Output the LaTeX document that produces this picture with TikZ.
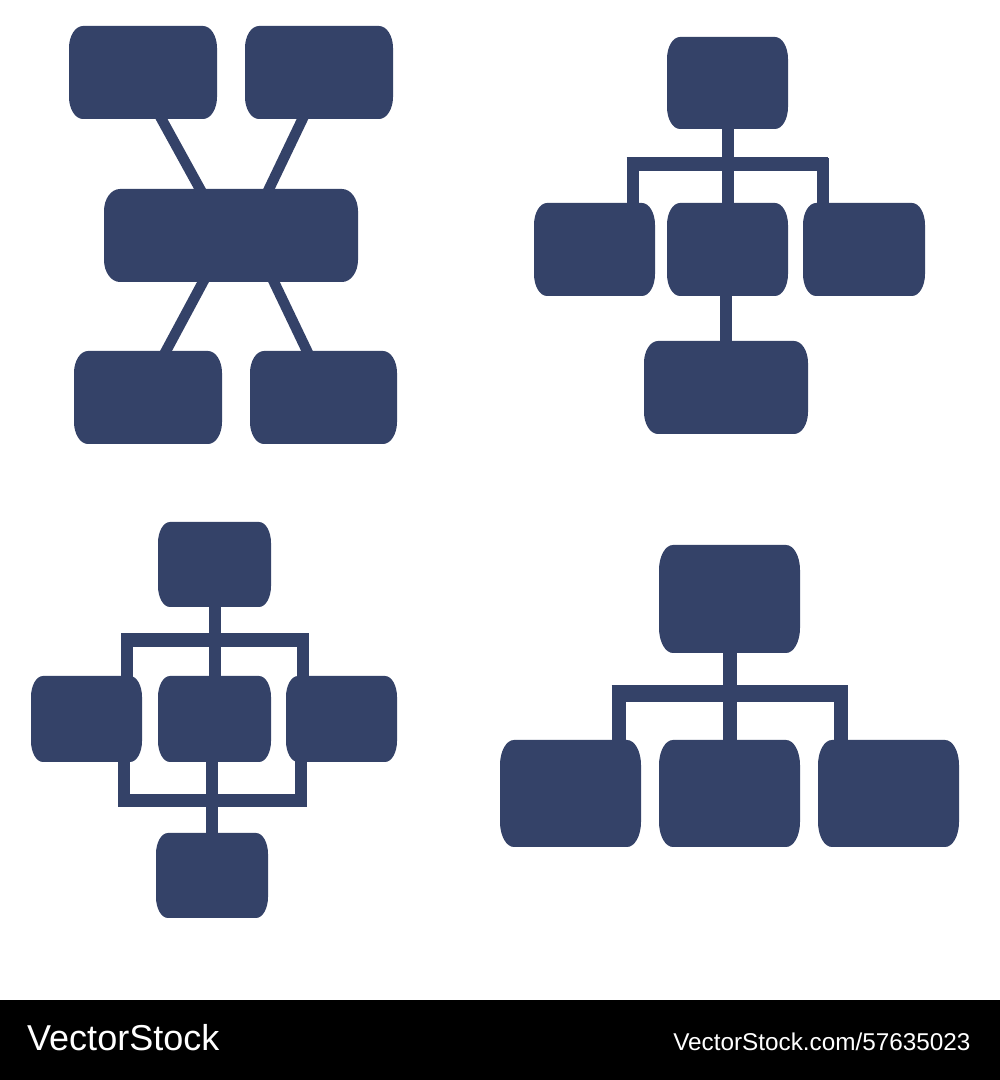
\documentclass[tikz,border=0pt]{standalone}
\usepackage{fontspec}
\setmainfont{Liberation Sans}
\definecolor{navy}{HTML}{344268}
\newcommand\mkbox[5]{% name, x1, ytop, x2, ybottom (pixel coords, y down)
  \node[boxanchor, minimum width={(#4-#2)*1pt}, minimum height={(#5-#3)*1pt}]
    (#1) at ({(#2+#4)/2}, {1080-(#3+#5)/2}) {};}
\newcommand\fillbox[3]{% name, rx, ry
  \fill[navy] ([xshift=#2pt]#1.north west) -- ([xshift=-#2pt]#1.north east)
    arc[start angle=90, end angle=0, x radius=#2pt, y radius=#3pt]
    -- ([yshift=#3pt]#1.south east)
    arc[start angle=0, end angle=-90, x radius=#2pt, y radius=#3pt]
    -- ([xshift=#2pt]#1.south west)
    arc[start angle=-90, end angle=-180, x radius=#2pt, y radius=#3pt]
    -- ([yshift=-#3pt]#1.north west)
    arc[start angle=180, end angle=90, x radius=#2pt, y radius=#3pt] -- cycle;}
\tikzset{
  boxanchor/.style={inner sep=0pt, outer sep=0pt, draw=none, rectangle},
  link/.style={draw=navy, line width=12pt, line cap=butt},
  slant/.style={draw=navy, line width=10.5pt, shorten <=-8pt, shorten >=-8pt},
  into/.style={shorten <=-6pt, shorten >=-6pt},
}
\begin{document}
\begin{tikzpicture}[x=1pt,y=1pt]
\useasboundingbox (0,0) rectangle (1000,1080);
\fill[white] (0,0) rectangle (1000,1080);

% ---------- Diagram 1 (top left) ----------
\mkbox{A1}{69}{26}{217}{119}
\mkbox{A2}{245}{26}{393}{119}
\mkbox{M}{104}{189}{358}{282}
\mkbox{B1}{74}{351}{222}{444}
\mkbox{B2}{250}{351}{397}{444}
\draw[slant] ([xshift=18.5pt]A1.south) -- ([xshift=-31pt]M.north);
\draw[slant] ([xshift=-16.5pt]A2.south) -- ([xshift=38pt]M.north);
\draw[slant] ([xshift=-28pt]M.south) -- ([xshift=18pt]B1.north);
\draw[slant] ([xshift=43pt]M.south) -- ([xshift=-16.5pt]B2.north);

% ---------- Diagram 2 (top right) ----------
\mkbox{T}{667}{37}{788}{129}
\mkbox{L}{534}{203}{655}{296}
\mkbox{C}{667}{203}{788}{296}
\mkbox{R}{803}{203}{925}{296}
\mkbox{Bt}{644}{341}{808}{434}
\coordinate (bar2) at (727.5,{1080-164});
\draw[link,into] (T.south) -- (C.north);
\draw[link,into] ([xshift=38pt]L.north) -- ([xshift=38pt]L.north |- bar2);
\draw[link,into] ([xshift=-41.5pt]R.north) -- ([xshift=-41.5pt]R.north |- bar2);
\draw[link, line width=14pt] ([xshift=32.2pt]L.north |- bar2) -- ([xshift=-35.7pt]R.north |- bar2);
\draw[link,into] ([xshift=-1.5pt]C.south) -- ([xshift=-1.5pt]C.south |- Bt.north);

% ---------- Diagram 3 (bottom left) ----------
\mkbox{T3}{158}{522}{271}{607}
\mkbox{L3}{31}{676}{142}{762}
\mkbox{C3}{158}{676}{271}{762}
\mkbox{R3}{286}{676}{397}{762}
\mkbox{B3}{156}{833}{268}{918}
\coordinate (bar3a) at (214.5,{1080-639.7});
\coordinate (bar3b) at (212,{1080-801});
\draw[link,into] ([xshift=0.5pt]T3.south) -- ([xshift=0.5pt]C3.north);
\draw[link,into] ([xshift=40pt]L3.north) -- ([xshift=40pt]L3.north |- bar3a);
\draw[link,into] ([xshift=-38.5pt]R3.north) -- ([xshift=-38.5pt]R3.north |- bar3a);
\draw[link, line width=14pt] ([xshift=34.5pt]L3.north |- bar3a) -- ([xshift=-32.8pt]R3.north |- bar3a);
\draw[link,into] ([xshift=37.5pt]L3.south) -- ([xshift=37.5pt]L3.south |- bar3b);
\draw[link,into] ([xshift=-41pt]R3.south) -- ([xshift=-41pt]R3.south |- bar3b);
\draw[link,into] ([xshift=-2.5pt]C3.south) -- (B3.north);
\draw[link, line width=13pt] ([xshift=31.8pt]L3.south |- bar3b) -- ([xshift=-35.5pt]R3.south |- bar3b);

% ---------- Diagram 4 (bottom right) ----------
\mkbox{T4}{659}{545}{800}{653}
\mkbox{L4}{500}{740}{641}{847}
\mkbox{C4}{659}{740}{800}{847}
\mkbox{R4}{818}{740}{959}{847}
\coordinate (bar4) at (730.3,{1080-693.3});
\draw[link,into,line width=14pt] ([xshift=0.8pt]T4.south) -- ([xshift=0.8pt]C4.north);
\draw[link,into,line width=14pt] ([xshift=48.2pt]L4.north) -- ([xshift=48.2pt]L4.north |- bar4);
\draw[link,into,line width=14pt] ([xshift=-48pt]R4.north) -- ([xshift=-48pt]R4.north |- bar4);
\draw[link, line width=16.5pt] ([xshift=41.2pt]L4.north |- bar4) -- ([xshift=-40.8pt]R4.north |- bar4);

% ---------- box fills ----------
\fillbox{A1}{14}{22}\fillbox{A2}{14}{22}\fillbox{M}{16}{22}
\fillbox{B1}{14}{22}\fillbox{B2}{14}{22}
\fillbox{T}{13}{22}\fillbox{L}{13}{22}\fillbox{C}{13}{22}\fillbox{R}{13}{22}\fillbox{Bt}{14}{22}
\fillbox{T3}{12}{21}\fillbox{L3}{12}{21}\fillbox{C3}{12}{21}\fillbox{R3}{12}{21}\fillbox{B3}{12}{21}
\fillbox{T4}{14}{25}\fillbox{L4}{14}{25}\fillbox{C4}{14}{25}\fillbox{R4}{14}{25}

% ---------- footer ----------
\fill[black] (0,0) rectangle (1000,80);
\node[anchor=base west, inner sep=0pt, text=white, font=\fontsize{36}{36}\selectfont] (logo) at (27,29.3) {VectorStock};
\node[anchor=base east, inner sep=0pt, text=white, font=\fontsize{24.3}{24.3}\selectfont] (url) at (970.7,29.3) {VectorStock.com/57635023};
\end{tikzpicture}
\end{document}
